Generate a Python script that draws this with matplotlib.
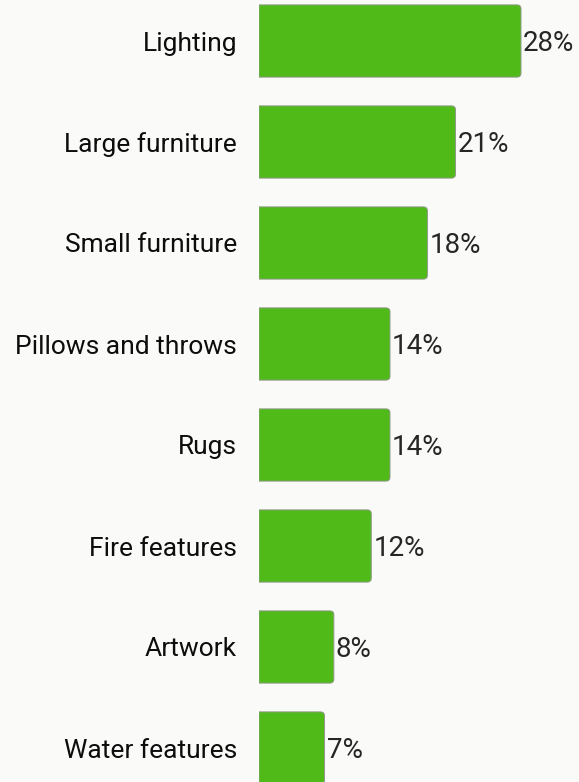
import matplotlib
matplotlib.use("Agg")
import matplotlib.pyplot as plt
from matplotlib.path import Path
from matplotlib.patches import PathPatch

categories = ["Lighting", "Large furniture", "Small furniture", "Pillows and throws",
              "Rugs", "Fire features", "Artwork", "Water features"]
values = [28, 21, 18, 14, 14, 12, 8, 7]

BG = "#fafaf9"
BAR = "#4fba18"
EDGE = "#8f9a88"

plt.rcParams["font.family"] = ["Roboto", "DejaVu Sans"]

fig = plt.figure(figsize=(5.79, 7.82), dpi=100, facecolor=BG)
ax = fig.add_axes([259 / 579, 0, 1 - 259 / 579, 1])
ax.set_facecolor(BG)

px_x = 28 / 262.0          # data units per pixel along x
ax.set_xlim(0, px_x * (579 - 259))
ax.set_ylim((782 - 41) / 101.0, -41 / 101.0)
px_y = 1 / 101.0

bar_h = 0.715
rx, ry = 4 * px_x, 4 * px_y
text_dy = 2.5 * px_y


def right_rounded(x0, w, yc, h):
    y0, y1 = yc - h / 2, yc + h / 2
    verts = [(x0, y0), (x0 + w - rx, y0), (x0 + w, y0), (x0 + w, y0 + ry),
             (x0 + w, y1 - ry), (x0 + w, y1), (x0 + w - rx, y1), (x0, y1), (x0, y0)]
    codes = [Path.MOVETO, Path.LINETO, Path.CURVE3, Path.CURVE3,
             Path.LINETO, Path.CURVE3, Path.CURVE3, Path.LINETO, Path.CLOSEPOLY]
    return Path(verts, codes)


for i, (cat, v) in enumerate(zip(categories, values)):
    ax.add_patch(PathPatch(right_rounded(0, v, i, bar_h), facecolor=BAR,
                           edgecolor=EDGE, linewidth=0.7))
    ax.text(v + 2 * px_x, i + text_dy, f"{v}%", va="center", ha="left",
            fontsize=20, color="#262626")
    ax.text(-22 * px_x, i + text_dy, cat, va="center", ha="right",
            fontsize=19, color="#0d0d0d", clip_on=False)

ax.axis("off")
fig.savefig("out.png", dpi=100, facecolor=BG)
